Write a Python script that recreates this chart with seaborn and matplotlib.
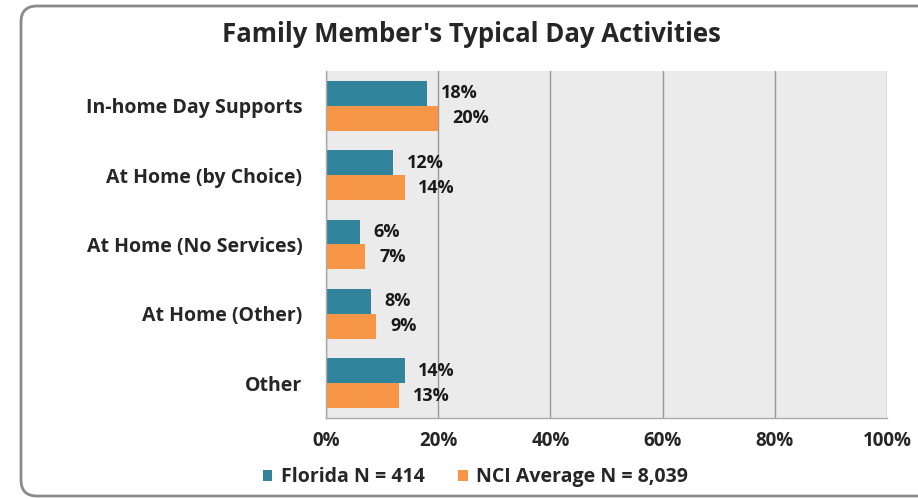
import seaborn as sns
import matplotlib.pyplot as plt
import pandas as pd
from matplotlib.patches import FancyBboxPatch, Patch

# data
categories = ['In-home Day Supports', 'At Home (by Choice)', 'At Home (No Services)',
              'At Home (Other)', 'Other']
florida = [18, 12, 6, 8, 14]
nci_avg = [20, 14, 7, 9, 13]
series_names = ['Florida N = 414', 'NCI Average N = 8,039']
xticks = [0, 20, 40, 60, 80, 100]

teal = '#31849B'
orange = '#F79646'

df = pd.DataFrame({
    'category': categories * 2,
    'value': florida + nci_avg,
    'series': [series_names[0]] * len(categories) + [series_names[1]] * len(categories),
})

sns.set_style('white')
plt.rcParams['font.family'] = ['Open Sans', 'DejaVu Sans']
plt.rcParams['font.weight'] = 'bold'

fig = plt.figure(figsize=(9.18, 4.99), dpi=100)
ax = fig.add_axes([326 / 918, 1 - 418 / 499, (887 - 326) / 918, (418 - 71) / 499])
ax.set_facecolor('#EBEBEB')

sns.barplot(data=df, y='category', x='value', hue='series', orient='h',
            palette=[teal, orange], width=0.72, legend=False, ax=ax,
            edgecolor='none', saturation=1)

for cont in ax.containers:
    ax.bar_label(cont, labels=[f'{v:.0f}%' for v in cont.datavalues], padding=10,
                 fontsize=13, fontweight='bold', color='#1a1a1a')

ax.set_xlim(0, 100)
ax.set_ylim(4.5, -0.5)
ax.set_xticks(xticks)
ax.set_xticklabels([f'{t}%' for t in xticks], fontsize=13.5, fontweight='bold')
ax.set_yticks(range(len(categories)))
ax.set_yticklabels(categories, fontsize=14, fontweight='bold')
ax.set_yticks([i - 0.5 for i in range(len(categories) + 1)], minor=True)
ax.tick_params(axis='y', which='major', length=0, pad=17)
ax.tick_params(axis='y', which='minor', length=8, color='#999999', width=1)
ax.tick_params(axis='x', length=5, color='#999999', width=1, pad=4)
ax.set_xlabel('')
ax.set_ylabel('')

ax.grid(axis='x', color='#999999', linewidth=1)
ax.set_axisbelow(True)
for s in ['top', 'right']:
    ax.spines[s].set_visible(False)
for s in ['left', 'bottom']:
    ax.spines[s].set_color('#aaaaaa')
    ax.spines[s].set_linewidth(1)

fig.text(471 / 918, 1 - 35 / 499, "Family Member's Typical Day Activities",
         ha='center', va='center', fontsize=18.5, fontweight='bold')

handles = [Patch(facecolor=teal, edgecolor='none'), Patch(facecolor=orange, edgecolor='none')]
fig.legend(handles, series_names, loc='center', bbox_to_anchor=(0.518, 1 - 477 / 499),
           ncol=2, frameon=False, prop={'weight': 'bold', 'size': 14},
           handlelength=0.5, handleheight=0.5, handletextpad=0.45, columnspacing=1.7)

frame = FancyBboxPatch((21, 3), 915, 490, boxstyle='round,pad=0,rounding_size=16',
                       transform=None, facecolor='none', edgecolor='#8a8a8a', linewidth=2)
fig.patches.append(frame)

plt.savefig('out.png', dpi=100)
